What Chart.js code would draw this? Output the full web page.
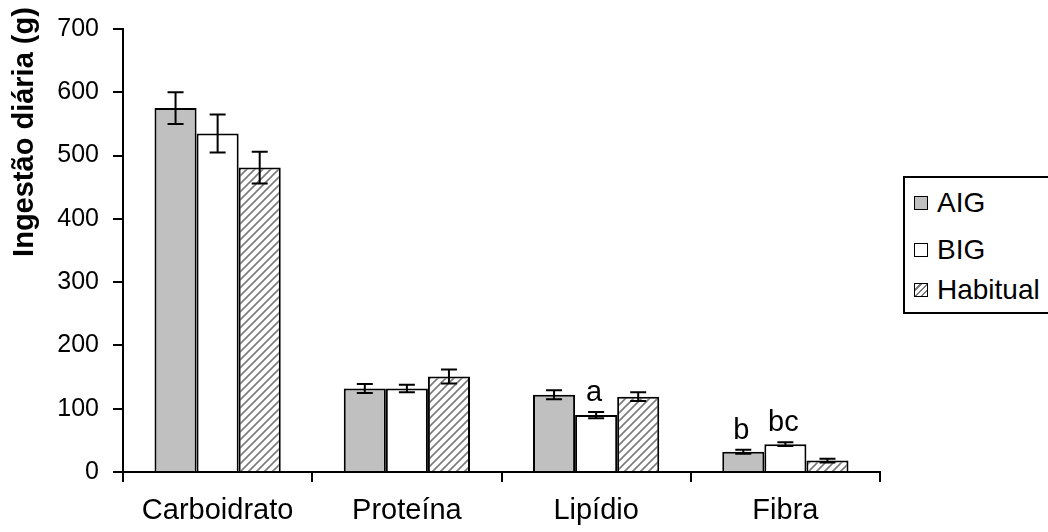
<!DOCTYPE html>
<html>
<head>
<meta charset="utf-8">
<script src="https://cdn.jsdelivr.net/npm/chart.js@4.4.0/dist/chart.umd.min.js"></script>
<style>
  html, body { margin: 0; padding: 0; background: #fff; }
  #wrap { position: relative; width: 1048px; height: 532px; overflow: hidden; }
  #legend {
    position: absolute; left: 903px; top: 176px; width: 170px; height: 138px;
    border: 2px solid #000; background: #fff; box-sizing: border-box;
    font-family: "Liberation Sans", Arial, sans-serif; font-size: 28px; color: #000;
  }
  .item { position: absolute; left: 9px; height: 30px; line-height: 30px; display: flex; align-items: center; }
  .sw { width: 12px; height: 12px; border: 1.5px solid #000; margin-right: 9px; }
</style>
</head>
<body>
<div id="wrap">
  <canvas id="chart" width="1048" height="532"></canvas>
  <div id="legend"></div>
</div>
<script>
// categories and series
const categories = ["Carboidrato", "Proteína", "Lipídio", "Fibra"];
const seriesNames = ["AIG", "BIG", "Habitual"];
const aigValues = [575, 132, 122, 32];
const aigErrors = [25, 7, 7, 3];
const bigValues = [535, 132, 90, 44];
const bigErrors = [30, 6, 5, 3];
const habitualValues = [481, 151, 119, 18];
const habitualErrors = [25, 11, 7, 3];
const aigLetters = ["", "", "", "b"];
const bigLetters = ["", "", "a", "bc"];
const habitualLetters = ["", "", "", ""];
const yTicks = [0, 100, 200, 300, 400, 500, 600, 700];

const FONT = '"Liberation Sans", Arial, sans-serif';

// diagonal hatch for "Habitual"
function makeHatch() {
  const c = document.createElement("canvas");
  c.width = 8; c.height = 8;
  const g = c.getContext("2d");
  g.fillStyle = "#fff";
  g.fillRect(0, 0, 8, 8);
  g.strokeStyle = "#7a7a7a";
  g.lineWidth = 1.6;
  g.beginPath();
  g.moveTo(-2, 10); g.lineTo(10, -2);
  g.moveTo(-2, 2); g.lineTo(2, -2);
  g.moveTo(6, 10); g.lineTo(10, 6);
  g.stroke();
  return g.createPattern(c, "repeat");
}
const hatch = makeHatch();

const errorsBySeries = [aigErrors, bigErrors, habitualErrors];
const lettersBySeries = [aigLetters, bigLetters, habitualLetters];

// error bars + letters drawn through the scales
const errorBarPlugin = {
  id: "errorBars",
  afterDatasetsDraw(chart) {
    const ctx = chart.ctx;
    const y = chart.scales.y;
    ctx.save();
    chart.data.datasets.forEach((ds, di) => {
      const meta = chart.getDatasetMeta(di);
      meta.data.forEach((bar, i) => {
        const v = ds.data[i];
        const e = errorsBySeries[di][i];
        const top = y.getPixelForValue(v + e);
        const bot = y.getPixelForValue(v - e);
        const cap = 8;
        ctx.strokeStyle = "#000";
        ctx.lineWidth = 2;
        ctx.beginPath();
        ctx.moveTo(bar.x, top); ctx.lineTo(bar.x, bot);
        ctx.moveTo(bar.x - cap, top); ctx.lineTo(bar.x + cap, top);
        ctx.moveTo(bar.x - cap, bot); ctx.lineTo(bar.x + cap, bot);
        ctx.stroke();
        const letter = lettersBySeries[di][i];
        if (letter) {
          ctx.fillStyle = "#000";
          ctx.font = "29px " + FONT;
          ctx.textAlign = "center";
          ctx.textBaseline = "alphabetic";
          ctx.fillText(letter, bar.x - 2, top - 11);
        }
      });
    });
    ctx.restore();
  },
  afterDraw(chart) {
    // y axis title
    const ctx = chart.ctx;
    ctx.save();
    ctx.translate(33, 132);
    ctx.rotate(-Math.PI / 2);
    ctx.font = "bold 29px " + FONT;
    ctx.fillStyle = "#000";
    ctx.textAlign = "center";
    ctx.textBaseline = "alphabetic";
    ctx.fillText("Ingestão diária (g)", 0, 0);
    ctx.restore();
  }
};

new Chart(document.getElementById("chart"), {
  type: "bar",
  data: {
    labels: categories,
    datasets: [
      { label: seriesNames[0], data: aigValues, backgroundColor: "#c0c0c0" },
      { label: seriesNames[1], data: bigValues, backgroundColor: "#ffffff" },
      { label: seriesNames[2], data: habitualValues, backgroundColor: hatch }
    ].map((d) => Object.assign(d, { borderColor: "#000", borderWidth: 2, borderSkipped: "bottom" }))
  },
  options: {
    responsive: false,
    animation: false,
    layout: { padding: { top: 27, right: 168, left: 0, bottom: 0 } },
    datasets: { bar: { categoryPercentage: 0.667, barPercentage: 1 } },
    plugins: { legend: { display: false }, tooltip: { enabled: false } },
    scales: {
      x: {
        offset: true,
        border: { color: "#000", width: 2 },
        grid: { offset: true, drawOnChartArea: false, color: "#000", lineWidth: 2, tickLength: 10 },
        ticks: { color: "#000", font: { family: FONT, size: 29 }, padding: 12 },
        afterFit(scale) { scale.height = 60; }
      },
      y: {
        min: 0, max: 700,
        afterBuildTicks(scale) { scale.ticks = yTicks.map((v) => ({ value: v })); },
        border: { color: "#000", width: 2 },
        grid: { drawOnChartArea: false, color: "#000", lineWidth: 2, tickLength: 10 },
        ticks: { color: "#000", font: { family: FONT, size: 25 }, padding: 14 },
        afterFit(scale) { scale.width = 123; }
      }
    }
  },
  plugins: [errorBarPlugin]
});

// legend as html
const legend = document.getElementById("legend");
const swatches = ["#c0c0c0", "#ffffff", null];
const tops = [10, 57, 97];
seriesNames.forEach((name, i) => {
  const it = document.createElement("div");
  it.className = "item";
  it.style.top = tops[i] + "px";
  const sw = document.createElement("span");
  sw.className = "sw";
  if (swatches[i]) sw.style.background = swatches[i];
  else sw.style.background = "repeating-linear-gradient(-45deg, #fff 0 3px, #7a7a7a 3px 4.5px)";
  it.appendChild(sw);
  it.appendChild(document.createTextNode(name));
  legend.appendChild(it);
});
</script>
</body>
</html>
